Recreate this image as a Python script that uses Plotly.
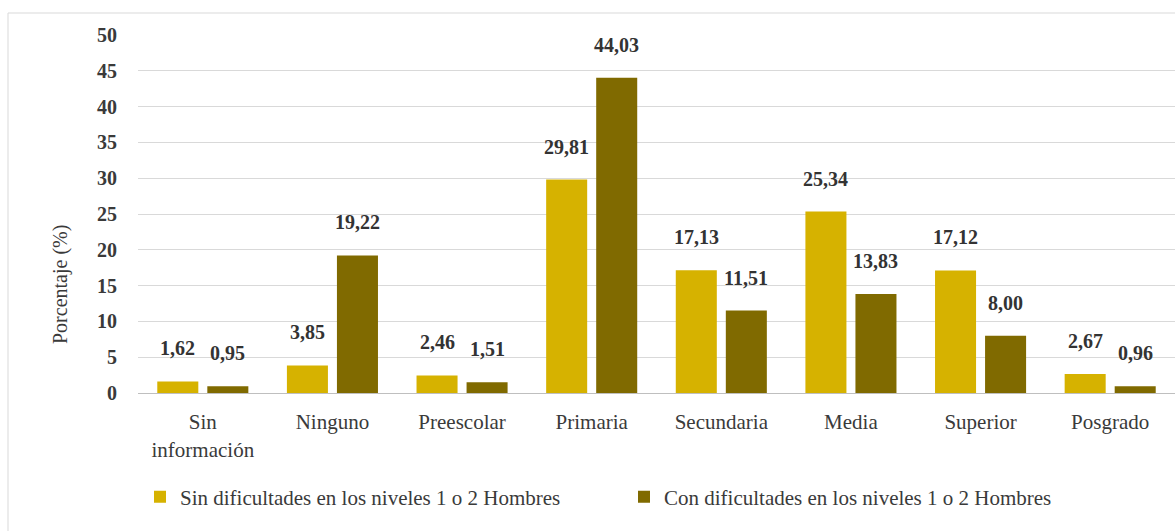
import plotly.graph_objects as go

categories = ["Sin<br>información", "Ninguno", "Preescolar", "Primaria",
              "Secundaria", "Media", "Superior", "Posgrado"]
sin_dif = [1.62, 3.85, 2.46, 29.81, 17.13, 25.34, 17.12, 2.67]
con_dif = [0.95, 19.22, 1.51, 44.03, 11.51, 13.83, 8.00, 0.96]
series_names = ["Sin dificultades en los niveles 1 o 2 Hombres",
                "Con dificultades en los niveles 1 o 2 Hombres"]
y_ticks = [0, 5, 10, 15, 20, 25, 30, 35, 40, 45, 50]

GOLD = "#D6B200"
OLIVE = "#806A00"
FONT = "Liberation Serif"
TXT = "#3A3A3A"

# layout geometry (px)
W, H = 1175, 531
ML, MR, MT, MB = 138, 0, 35, 138
PW = W - ML - MR
PH = H - MT - MB

def px_to_paper_x(px):
    return (px - ML) / PW

def px_to_paper_y(py):
    return (H - MB - py) / PH

fig = go.Figure()
fig.add_trace(go.Bar(x=categories, y=sin_dif, name=series_names[0],
                     marker=dict(color=GOLD, line=dict(width=0)),
                     legend="legend"))
fig.add_trace(go.Bar(x=categories, y=con_dif, name=series_names[1],
                     marker=dict(color=OLIVE, line=dict(width=0)),
                     legend="legend2"))

def fmt(v):
    return f"{v:.2f}".replace(".", ",")

annotations = []
for vals, shift in ((sin_dif, -25), (con_dif, 25)):
    for c, v in zip(categories, vals):
        annotations.append(dict(
            x=c, y=v, xref="x", yref="y", text=fmt(v), showarrow=False,
            xshift=shift, yshift=33,
            font=dict(family=FONT, size=20, color="#333333", weight="bold")))

annotations.append(dict(
    text="Porcentaje (%)", xref="paper", yref="paper",
    x=px_to_paper_x(60), y=px_to_paper_y(285), showarrow=False,
    textangle=-90, xanchor="center", yanchor="middle",
    font=dict(family=FONT, size=20, color=TXT)))

shapes = [dict(type="rect", xref="paper", yref="paper",
               x0=px_to_paper_x(8), x1=px_to_paper_x(W + 10),
               y0=px_to_paper_y(H + 10), y1=px_to_paper_y(13),
               line=dict(color="#D9D9D9", width=1), fillcolor="rgba(0,0,0,0)",
               layer="below")]

legend_common = dict(orientation="h", yanchor="middle", xanchor="left",
                     bgcolor="rgba(0,0,0,0)", borderwidth=0,
                     font=dict(family=FONT, size=21, color=TXT))

fig.update_layout(
    width=W, height=H,
    margin=dict(l=ML, r=MR, t=MT, b=MB),
    paper_bgcolor="white", plot_bgcolor="white",
    barmode="group", bargap=0.228, bargroupgap=0.18,
    font=dict(family=FONT, color=TXT),
    showlegend=True,
    legend=dict(x=px_to_paper_x(140), y=px_to_paper_y(497), **legend_common),
    legend2=dict(x=px_to_paper_x(624), y=px_to_paper_y(497), **legend_common),
    annotations=annotations,
    shapes=shapes,
    xaxis=dict(type="category", showgrid=False, showline=True,
               linecolor="#BFBFBF", linewidth=1,
               ticks="outside", ticklen=10, tickcolor="rgba(0,0,0,0)",
               tickfont=dict(family=FONT, size=21, color=TXT),
               fixedrange=True),
    yaxis=dict(range=[0, 50], tickvals=y_ticks, showgrid=True,
               gridcolor="#D9D9D9", gridwidth=1, zeroline=False,
               showline=False, ticks="outside", ticklen=16,
               tickcolor="rgba(0,0,0,0)",
               tickfont=dict(family=FONT, size=20, color=TXT, weight="bold"),
               fixedrange=True),
)

fig.write_html("out.html", config={"displayModeBar": False},
               post_script="document.body.style.margin='0';"
                           "document.body.style.overflow='hidden';")
